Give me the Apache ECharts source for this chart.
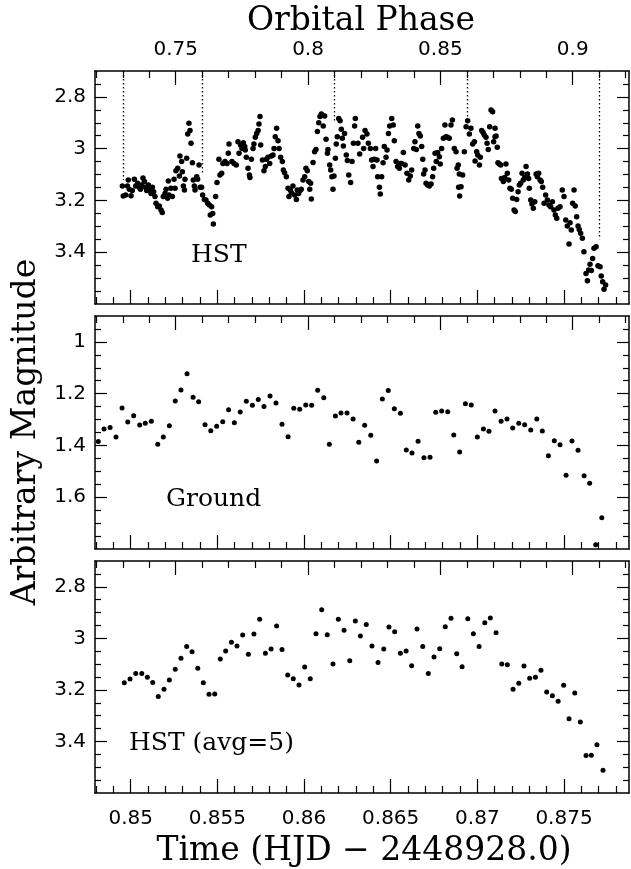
<!DOCTYPE html>
<html>
<head>
<meta charset="utf-8">
<script src="https://cdn.jsdelivr.net/npm/echarts@6/dist/echarts.min.js"></script>
<style>
  html, body { margin: 0; padding: 0; background: #fff; }
  #chart { width: 631px; height: 869px; }
</style>
</head>
<body>
<div id="chart"></div>
<script>
// HST light curve, [time, magnitude]
const hstPoints = [
  [0.84952,3.144],[0.84957,3.183],[0.84971,3.179],[0.84981,3.144],[0.84986,3.121],[0.84992,3.157],[0.85002,3.182],[0.85009,3.162],[0.85021,3.118],[0.85029,3.144],
  [0.8504,3.134],[0.85048,3.149],[0.85056,3.157],[0.85063,3.14],[0.85071,3.113],[0.85079,3.127],[0.85086,3.149],[0.85092,3.162],[0.85102,3.14],[0.85107,3.16],
  [0.85117,3.173],[0.85125,3.149],[0.85132,3.166],[0.8514,3.185],[0.85146,3.211],[0.85156,3.224],[0.85165,3.221],[0.85175,3.237],[0.85182,3.247],[0.85188,3.185],
  [0.85198,3.173],[0.85204,3.157],[0.85213,3.192],[0.85217,3.125],[0.85221,3.179],[0.85232,3.153],[0.8524,3.185],[0.8525,3.118],[0.85256,3.153],[0.85261,3.085],
  [0.85271,3.076],[0.85281,3.106],[0.85284,3.028],[0.85294,3.05],[0.85298,3.089],[0.85304,3.144],[0.8531,3.16],[0.85313,3.118],[0.85323,3.037],[0.85329,2.943],
  [0.85336,2.902],[0.85342,2.93],[0.85348,2.979],[0.85356,3.054],[0.85361,3.121],[0.85367,3.144],[0.85371,3.16],[0.85381,3.108],[0.85386,3.118],[0.85394,3.063],
  [0.854,3.149],[0.85409,3.149],[0.85415,3.179],[0.85425,3.196],[0.85434,3.198],[0.85444,3.211],[0.85454,3.218],[0.85459,3.256],[0.85467,3.224],[0.85473,3.25],
  [0.85477,3.291],[0.8549,3.185],[0.85498,3.131],[0.85509,3.041],[0.85515,3.102],[0.85525,3.095],[0.85532,3.057],[0.85544,3.05],[0.85556,3.057],[0.85563,3.018],
  [0.85567,2.982],[0.85584,3.05],[0.85596,3.057],[0.85609,3.063],[0.85619,2.973],[0.85625,3.018],[0.85634,2.986],[0.85642,2.999],[0.8565,2.977],[0.85658,2.992],
  [0.85661,3.005],[0.85667,3.033],[0.85677,3.076],[0.85685,3.102],[0.85688,3.111],[0.85696,3.041],[0.85706,2.999],[0.85711,2.982],[0.85719,2.956],[0.85727,2.941],
  [0.85735,2.93],[0.8574,2.905],[0.85746,2.876],[0.8575,2.986],[0.8576,3.044],[0.85769,3.085],[0.85777,3.069],[0.85783,3.041],[0.85792,3.033],[0.85802,3.057],
  [0.85811,3.028],[0.85821,3.024],[0.85827,2.999],[0.85834,2.954],[0.85842,2.921],[0.8585,2.969],[0.85856,2.999],[0.85865,3.033],[0.85875,3.05],[0.85881,3.082],
  [0.85888,3.093],[0.85898,3.108],[0.85908,3.153],[0.85913,3.185],[0.85921,3.16],[0.85927,3.17],[0.85936,3.144],[0.85946,3.179],[0.85956,3.196],[0.85961,3.16],
  [0.85969,3.173],[0.85977,3.162],[0.85984,3.157],[0.85994,3.121],[0.86004,3.108],[0.86011,3.076],[0.86019,3.085],[0.86027,3.127],[0.86033,3.157],[0.86038,3.134],
  [0.86042,3.194],[0.86052,3.053],[0.86061,3.012],[0.86069,3.003],[0.86077,2.934],[0.86085,2.9],[0.86092,2.876],[0.861,2.866],[0.86111,2.912],[0.86119,2.874],
  [0.86127,2.964],[0.86135,3.018],[0.86138,3.003],[0.86148,3.063],[0.86154,3.082],[0.86161,3.108],[0.86167,3.157],[0.86173,3.106],[0.86181,3.037],[0.86186,2.982],
  [0.86192,2.954],[0.862,2.883],[0.86208,2.892],[0.86215,2.925],[0.86221,2.96],[0.86227,2.99],[0.86234,2.941],[0.86244,3.024],[0.8625,3.046],[0.86258,3.102],
  [0.86269,3.131],[0.86277,3.05],[0.86285,2.979],[0.86292,2.912],[0.86296,2.883],[0.86311,2.979],[0.86321,3.021],[0.86338,2.956],[0.86344,2.999],[0.86352,2.93],
  [0.86363,2.943],[0.86371,2.979],[0.86383,2.999],[0.8639,3.044],[0.86398,3.069],[0.86406,3.041],[0.86413,2.999],[0.86421,3.044],[0.86425,3.108],[0.86435,3.149],
  [0.8644,3.175],[0.86448,3.108],[0.86456,3.054],[0.86463,2.992],[0.86473,3.033],[0.86479,3.005],[0.86487,2.941],[0.86494,2.912],[0.86506,2.883],[0.86515,2.909],
  [0.86521,2.969],[0.86531,3.05],[0.8654,3.069],[0.8655,3.076],[0.86556,3.057],[0.86563,3.057],[0.86573,3.015],[0.86583,3.063],[0.86594,3.095],[0.86604,3.121],
  [0.86613,3.106],[0.86621,3.082],[0.86633,2.999],[0.8664,2.973],[0.86648,3.003],[0.86656,2.912],[0.86663,2.941],[0.86671,2.951],[0.86679,2.992],[0.86685,3.041],
  [0.8669,3.098],[0.86698,3.082],[0.86704,3.134],[0.86713,3.14],[0.86723,3.144],[0.86733,3.136],[0.86742,3.108],[0.86748,3.076],[0.86756,3.018],[0.86763,3.05],
  [0.86771,3.015],[0.86781,3.031],[0.86786,3.059],[0.86794,2.999],[0.86804,2.96],[0.86813,2.909],[0.86819,2.954],[0.86829,2.956],[0.86838,2.96],[0.86848,2.909],
  [0.86856,2.889],[0.86867,2.999],[0.86877,3.012],[0.86883,3.076],[0.8689,3.063],[0.86892,3.149],[0.86896,3.098],[0.86898,3.183],[0.86906,3.147],[0.86915,3.102],
  [0.86925,3.012],[0.86935,2.915],[0.86944,2.892],[0.86954,2.943],[0.86963,2.921],[0.86973,2.982],[0.86983,2.973],[0.86987,3.048],[0.86996,3.012],[0.87002,3.024],
  [0.87012,3.063],[0.87017,3.033],[0.87025,2.93],[0.87033,2.938],[0.8704,2.947],[0.8705,2.956],[0.87056,2.979],[0.87063,3.003],[0.87071,2.915],[0.87079,2.851],
  [0.87088,2.857],[0.87094,2.973],[0.87102,2.954],[0.87102,2.921],[0.87108,2.951],[0.87115,2.995],[0.87119,3.054],[0.87127,3.059],[0.87135,3.063],[0.87139,3.115],
  [0.8715,3.127],[0.87158,3.111],[0.87165,3.059],[0.87173,3.095],[0.87181,3.121],[0.87188,3.153],[0.87196,3.157],[0.87204,3.192],[0.87212,3.237],[0.87219,3.243],
  [0.87227,3.196],[0.87235,3.166],[0.87242,3.14],[0.8725,3.134],[0.87258,3.095],[0.87265,3.121],[0.87273,3.111],[0.87281,3.069],[0.87289,3.098],[0.87296,3.115],
  [0.873,3.153],[0.87308,3.198],[0.87315,3.214],[0.87323,3.23],[0.87331,3.205],[0.87339,3.098],[0.87346,3.108],[0.87354,3.095],[0.87362,3.121],[0.87369,3.127],
  [0.87377,3.149],[0.87385,3.211],[0.87394,3.179],[0.87404,3.198],[0.87413,3.218],[0.87423,3.224],[0.87433,3.205],[0.87442,3.237],[0.8745,3.256],[0.87458,3.269],
  [0.87465,3.23],[0.87477,3.224],[0.8749,3.16],[0.875,3.185],[0.8751,3.276],[0.87519,3.299],[0.87529,3.368],[0.87535,3.286],[0.87542,3.314],[0.8755,3.211],
  [0.87558,3.16],[0.87565,3.221],[0.87573,3.263],[0.87581,3.299],[0.87588,3.312],[0.87596,3.327],[0.87606,3.346],[0.87615,3.398],[0.87627,3.482],[0.87635,3.51],
  [0.87642,3.469],[0.8765,3.446],[0.87658,3.471],[0.87665,3.424],[0.87673,3.385],[0.87685,3.379],[0.87696,3.452],[0.87708,3.456],[0.87715,3.492],[0.87723,3.514],
  [0.87731,3.543],[0.8774,3.527]
];

// ground based photometry
const groundPoints = [
  [0.84813,1.385],[0.84846,1.336],[0.84881,1.331],[0.84915,1.367],[0.8495,1.255],[0.84983,1.309],[0.85017,1.285],[0.85052,1.321],[0.85084,1.314],[0.85119,1.307],
  [0.85156,1.395],[0.85188,1.367],[0.85223,1.324],[0.85257,1.228],[0.8529,1.186],[0.85325,1.123],[0.8536,1.214],[0.85392,1.231],[0.85429,1.32],[0.85462,1.343],
  [0.85496,1.326],[0.85531,1.308],[0.85565,1.262],[0.85598,1.312],[0.85632,1.271],[0.85667,1.229],[0.85702,1.245],[0.85736,1.223],[0.85769,1.25],[0.85804,1.209],
  [0.85838,1.236],[0.85873,1.318],[0.85908,1.366],[0.85941,1.256],[0.85975,1.26],[0.8601,1.244],[0.86044,1.245],[0.86079,1.187],[0.86114,1.216],[0.86146,1.395],
  [0.86181,1.286],[0.86213,1.275],[0.86248,1.275],[0.86283,1.298],[0.86316,1.388],[0.8635,1.322],[0.86385,1.361],[0.86419,1.46],[0.86452,1.221],[0.86486,1.188],
  [0.86521,1.258],[0.86556,1.276],[0.8659,1.418],[0.86623,1.429],[0.86658,1.384],[0.86692,1.448],[0.86727,1.446],[0.8676,1.272],[0.86794,1.267],[0.86829,1.27],
  [0.86864,1.36],[0.86898,1.425],[0.86931,1.239],[0.86965,1.244],[0.87,1.367],[0.87035,1.336],[0.87067,1.345],[0.87102,1.267],[0.87137,1.307],[0.87171,1.298],
  [0.87204,1.333],[0.87239,1.314],[0.87273,1.32],[0.87308,1.34],[0.87343,1.298],[0.87375,1.344],[0.8741,1.44],[0.87444,1.382],[0.87477,1.397],[0.87512,1.515],
  [0.87546,1.383],[0.87581,1.419],[0.87616,1.517],[0.87648,1.546],[0.87683,1.784],[0.87718,1.679]
];

// HST binned by 5
const avgPoints = [
  [0.84963,3.172],[0.84996,3.158],[0.85029,3.136],[0.85064,3.136],[0.85096,3.151],[0.85127,3.171],[0.85159,3.226],[0.85192,3.198],[0.85223,3.162],[0.85257,3.12],
  [0.8529,3.077],[0.85323,3.032],[0.85354,3.052],[0.85387,3.116],[0.85419,3.172],[0.85452,3.217],[0.85485,3.216],[0.85517,3.08],[0.85548,3.049],[0.85581,3.015],
  [0.85613,3.03],[0.85646,2.987],[0.85679,3.062],[0.85711,2.983],[0.85744,2.926],[0.85777,3.058],[0.8581,3.041],[0.85842,2.952],[0.85873,3.043],[0.85906,3.142],
  [0.85938,3.157],[0.85971,3.181],[0.86004,3.111],[0.86036,3.157],[0.86069,2.982],[0.86102,2.889],[0.86134,2.986],[0.86167,3.1],[0.86198,2.926],[0.86231,2.969],
  [0.86264,3.087],[0.86296,2.933],[0.86325,2.991],[0.86359,2.946],[0.86392,3.03],[0.86427,3.094],[0.8646,3.041],[0.8649,2.956],[0.86523,2.974],[0.86556,3.058],
  [0.86589,3.049],[0.86621,3.106],[0.86652,2.964],[0.86685,3.032],[0.86717,3.136],[0.8675,3.072],[0.86783,3.04],[0.86815,2.955],[0.86848,2.922],[0.86881,3.06],
  [0.86912,3.11],[0.86945,2.924],[0.86977,2.982],[0.8701,3.032],[0.87043,2.94],[0.87075,2.921],[0.87108,2.978],[0.87141,3.1],[0.87173,3.102],[0.87206,3.198],
  [0.87239,3.174],[0.87269,3.107],[0.87302,3.155],[0.87335,3.151],[0.87367,3.124],[0.874,3.208],[0.87433,3.223],[0.87466,3.244],[0.87498,3.182],[0.87529,3.312],
  [0.87562,3.212],[0.87594,3.325],[0.87627,3.455],[0.87658,3.454],[0.8769,3.413],[0.87725,3.512]
];

// dotted phase markers in the top panel: phase, and the magnitude where each stops
const markPhases = [0.73, 0.76, 0.81, 0.86, 0.91];
const markEnds = [3.12, 3.10, 2.90, 2.88, 3.35];

// ticks
const timeMajor = [0.85, 0.855, 0.86, 0.865, 0.87, 0.875];
const phaseMajor = [0.75, 0.8, 0.85, 0.9];
const hstMagMajor = [2.8, 3, 3.2, 3.4];
const groundMagMajor = [1, 1.2, 1.4, 1.6];

const TIME_MIN = 0.84794, TIME_MAX = 0.87875;
const PHASE_MIN = 0.71951, PHASE_MAX = 0.92127;

function minorTicks(from, to, step, majors) {
  const out = [];
  const n = Math.round((to - from) / step);
  for (let i = 0; i <= n; i++) {
    const v = +(from + i * step).toFixed(4);
    if (!majors.some(m => Math.abs(m - v) < 1e-6)) out.push(v);
  }
  return out;
}
const timeMinor = minorTicks(0.848, 0.878, 0.001, timeMajor);
const phaseMinor = minorTicks(0.72, 0.92, 0.01, phaseMajor);
const hstMagMinor = minorTicks(2.75, 3.55, 0.05, hstMagMajor);
const groundMagMinor = minorTicks(0.95, 1.75, 0.05, groundMagMajor);

const black = '#000';
const tickFont = { fontFamily: 'DejaVu Sans', fontSize: 20, color: black };
const titleFont = 'DejaVu Serif';

function axis(base, major, minor, len, labelOpt, lineShow) {
  return [
    Object.assign({}, base, {
      axisLine: { show: lineShow, onZero: false, lineStyle: { color: black, width: 1.5 } },
      splitLine: { show: false },
      axisTick: { show: true, inside: true, length: len, customValues: major, lineStyle: { color: black, width: 1.2 } },
      axisLabel: Object.assign({ customValues: major }, tickFont, labelOpt)
    }),
    Object.assign({}, base, {
      axisLine: { show: false },
      splitLine: { show: false },
      axisTick: { show: true, inside: true, length: Math.round(len / 2), customValues: minor, lineStyle: { color: black, width: 1.2 } },
      axisLabel: { show: false }
    })
  ];
}

const grids = [
  { left: 95, width: 534, top: 71, height: 233 },
  { left: 95, width: 534, top: 316, height: 233 },
  { left: 95, width: 534, top: 561, height: 232 }
];

let xAxis = [], yAxis = [];
grids.forEach((g, i) => {
  const tb = { type: 'value', gridIndex: i, position: 'bottom', min: TIME_MIN, max: TIME_MAX };
  const pb = { type: 'value', gridIndex: i, position: 'top', min: PHASE_MIN, max: PHASE_MAX };
  xAxis = xAxis.concat(
    axis(tb, timeMajor, timeMinor, 14, { show: i === 2, margin: 16 }, true),
    axis(pb, phaseMajor, phaseMinor, 14, { show: i === 0, margin: 11 }, true)
  );
  const isGround = i === 1;
  const ymin = isGround ? 0.9 : 2.7, ymax = isGround ? 1.8 : 3.6;
  const maj = isGround ? groundMagMajor : hstMagMajor;
  const mnr = isGround ? groundMagMinor : hstMagMinor;
  const yl = { type: 'value', gridIndex: i, position: 'left', inverse: true, min: ymin, max: ymax };
  const yr = { type: 'value', gridIndex: i, position: 'right', inverse: true, min: ymin, max: ymax };
  yAxis = yAxis.concat(
    axis(yl, maj, mnr, 12, { show: true, margin: 9 }, true),
    axis(yr, maj, mnr, 12, { show: false }, true)
  );
});

const dotStyle = { color: black, opacity: 1 };

const option = {
  animation: false,
  backgroundColor: '#fff',
  grid: grids.map(g => Object.assign({ containLabel: false, outerBoundsMode: 'none' }, g)),
  xAxis: xAxis,
  yAxis: yAxis,
  series: [
    { type: 'scatter', xAxisIndex: 0, yAxisIndex: 0, data: hstPoints, symbolSize: 5.5, itemStyle: dotStyle, silent: true },
    { type: 'scatter', xAxisIndex: 4, yAxisIndex: 4, data: groundPoints, symbolSize: 5, itemStyle: dotStyle, silent: true },
    { type: 'scatter', xAxisIndex: 8, yAxisIndex: 8, data: avgPoints, symbolSize: 5, itemStyle: dotStyle, silent: true },
    {
      type: 'scatter', xAxisIndex: 2, yAxisIndex: 0, data: [], silent: true,
      markLine: {
        silent: true, symbol: ['none', 'none'], label: { show: false },
        lineStyle: { type: [1.5, 2.5], color: black, width: 1.3, opacity: 1 },
        data: markPhases.map((p, i) => [{ coord: [p, 2.7] }, { coord: [p, markEnds[i]] }])
      }
    }
  ],
  graphic: [
    { type: 'text', x: 361, y: 21, style: { text: 'Orbital Phase', fontFamily: titleFont, fontSize: 33, fill: black, align: 'center', verticalAlign: 'middle', textAlign: 'center', textVerticalAlign: 'middle' } },
    { type: 'text', x: 364, y: 851, style: { text: 'Time (HJD \u2212 2448928.0)', fontFamily: titleFont, fontSize: 33, fill: black, align: 'center', verticalAlign: 'middle', textAlign: 'center', textVerticalAlign: 'middle' } },
    { type: 'text', x: 26, y: 432, rotation: Math.PI / 2, style: { text: 'Arbitrary Magnitude', fontFamily: titleFont, fontSize: 33, fill: black, align: 'center', verticalAlign: 'middle', textAlign: 'center', textVerticalAlign: 'middle' } },
    { type: 'text', x: 191, y: 255, style: { text: 'HST', fontFamily: titleFont, fontSize: 25, fill: black, align: 'left', verticalAlign: 'middle', textAlign: 'left', textVerticalAlign: 'middle' } },
    { type: 'text', x: 166, y: 499, style: { text: 'Ground', fontFamily: titleFont, fontSize: 25, fill: black, align: 'left', verticalAlign: 'middle', textAlign: 'left', textVerticalAlign: 'middle' } },
    { type: 'text', x: 129, y: 743, style: { text: 'HST (avg=5)', fontFamily: titleFont, fontSize: 25, fill: black, align: 'left', verticalAlign: 'middle', textAlign: 'left', textVerticalAlign: 'middle' } }
  ]
};

const chart = echarts.init(document.getElementById('chart'), null, { renderer: 'canvas' });
chart.setOption(option);
</script>
</body>
</html>
